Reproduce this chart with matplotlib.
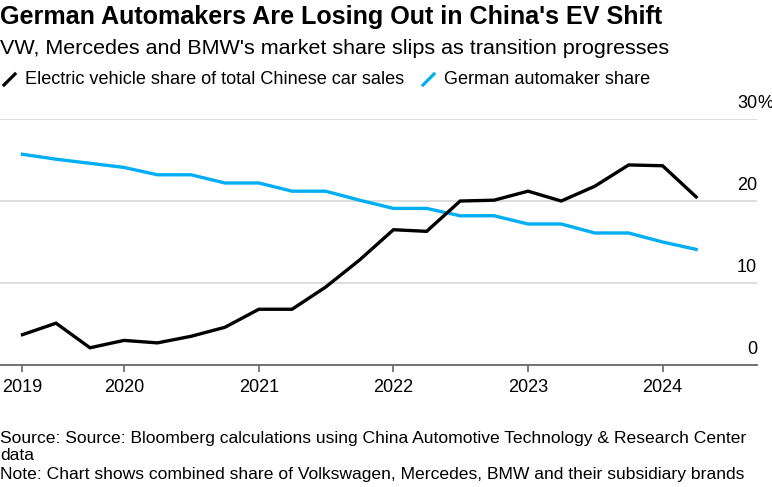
#!/usr/bin/env python3
import pandas as pd
import matplotlib.pyplot as plt
from matplotlib.lines import Line2D
import matplotlib.transforms as mtransforms

# Quarterly data, 2019 Q2 .. 2024 Q2 (percent)
quarters = pd.date_range("2019-04-01", periods=21, freq="QS")
ev_share = [3.7, 5.1, 2.1, 3.0, 2.7, 3.5, 4.6, 6.8, 6.8, 9.5, 12.8,
            16.5, 16.3, 20.0, 20.1, 21.2, 20.0, 21.8, 24.4, 24.3, 20.5]
german_share = [25.7, 25.1, 24.6, 24.1, 23.2, 23.2, 22.2, 22.2, 21.2, 21.2, 20.1,
                19.1, 19.1, 18.2, 18.2, 17.2, 17.2, 16.1, 16.1, 15.0, 14.1]
year_labels = ["2019", "2020", "2021", "2022", "2023", "2024"]
y_ticks = [10, 20, 30]

BLACK = "#000000"
BLUE = "#00AEF5"

plt.rcParams["font.family"] = ["Liberation Sans", "DejaVu Sans"]

fig = plt.figure(figsize=(7.72, 4.87), dpi=100)
ax = fig.add_axes([0.0, 0.2505, 757 / 772, 0.5051])

ax.plot(quarters, ev_share, color=BLACK, linewidth=2.4, solid_joinstyle="miter", zorder=3)
ax.plot(quarters, german_share, color=BLUE, linewidth=2.4, solid_joinstyle="miter", zorder=2)

ax.set_xlim(pd.Timestamp("2019-01-30"), pd.Timestamp("2024-09-13"))
ax.set_ylim(0, 30)

# x ticks: first data point labelled 2019, then Jan 1 of each year
tick_dates = [quarters[0]] + [pd.Timestamp(f"{y}-01-01") for y in year_labels[1:]]
ax.set_xticks(tick_dates)
ax.set_xticklabels(year_labels, fontsize=13)
ax.tick_params(axis="x", length=5, width=1.2, color="#666666", pad=5)
ax.set_yticks([])

for s in ["left", "right", "top"]:
    ax.spines[s].set_visible(False)
ax.spines["bottom"].set_color("#666666")
ax.spines["bottom"].set_linewidth(1.3)

for v in y_ticks:
    ax.axhline(v, color="#dddddd", linewidth=1.4, zorder=1)

# y labels sitting above the grid lines on the right
trans = mtransforms.blended_transform_factory(ax.transAxes, ax.transData)
for v in [0] + y_ticks:
    ax.annotate(str(v), xy=(1.0, v), xycoords=trans, xytext=(0, 5),
                textcoords="offset points", ha="right", va="bottom", fontsize=13)
ax.annotate("%", xy=(1.0, 30), xycoords=trans, xytext=(0, 5),
            textcoords="offset points", ha="left", va="bottom", fontsize=13)

# title, subtitle
fig.text(0.0, 1 - 17 / 487, "German Automakers Are Losing Out in China's EV Shift",
         fontsize=18.1, fontweight="bold", va="center", ha="left")
fig.text(0.0, 1 - 48 / 487, "VW, Mercedes and BMW's market share slips as transition progresses",
         fontsize=15.45, va="center", ha="left")

# legend
ly = 1 - 80 / 487
for x0, color, label in [(4, BLACK, "Electric vehicle share of total Chinese car sales"),
                         (423, BLUE, "German automaker share")]:
    fig.add_artist(Line2D([x0 / 772, (x0 + 11) / 772], [ly - 5 / 487, ly + 6 / 487],
                          color=color, linewidth=2.3, transform=fig.transFigure))
    fig.text((x0 + 21) / 772, ly, label, fontsize=13.1, va="center", ha="left")

# footer
foot = ["Source: Source: Bloomberg calculations using China Automotive Technology & Research Center",
        "data",
        "Note: Chart shows combined share of Volkswagen, Mercedes, BMW and their subsidiary brands"]
for i, line in enumerate(foot):
    fig.text(0.0, 1 - (438 + i * 18) / 487, line, fontsize=12.6, va="center", ha="left")

fig.savefig("out.png", dpi=100)
